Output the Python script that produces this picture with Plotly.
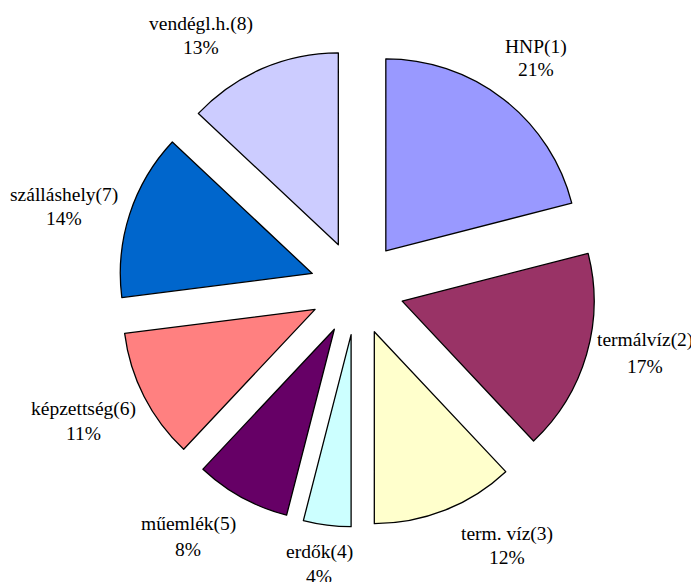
import plotly.graph_objects as go

categories = ["HNP(1)", "termálvíz(2)", "term. víz(3)", "erdők(4)", "műemlék(5)",
              "képzettség(6)", "szálláshely(7)", "vendégl.h.(8)"]
values = [21, 17, 12, 4, 8, 11, 14, 13]
colors = ["#9999FF", "#993366", "#FFFFCC", "#CCFFFF", "#660066", "#FF8080", "#0066CC", "#CCCCFF"]

W, H = 699, 582
OFF = 8  # page body margin offset
# label anchor positions in page pixels (x, name-line y, percent-line y)
label_pos = [(536, 47, 70), (645, 340, 366), (507, 534, 557), (319, 552, 576),
             (188, 524, 549), (83, 409, 433), (64, 195, 218), (201, 24, 48)]

fig = go.Figure(go.Pie(
    labels=categories, values=values, sort=False, direction="clockwise", rotation=0,
    pull=[0.245] * len(values),
    marker=dict(colors=colors, line=dict(color="black", width=1.3)),
    textinfo="none", hoverinfo="label+percent", showlegend=False,
    domain=dict(x=[110 / W, 588 / W], y=[1 - 519 / H, 1 - 41 / H]),
))

total = sum(values)
annotations = []
for cat, v, (px, py1, py2) in zip(categories, values, label_pos):
    for txt, py in ((cat, py1), (f"{round(100 * v / total)}%", py2)):
        annotations.append(dict(text=txt, x=(px - OFF) / W, y=1 - (py - OFF) / H,
                                xref="paper", yref="paper",
                                showarrow=False, xanchor="center", yanchor="middle",
                                font=dict(family="Liberation Serif", size=19.5, color="black")))

fig.update_layout(width=W, height=H, margin=dict(l=0, r=0, t=0, b=0),
                  paper_bgcolor="white", plot_bgcolor="white", annotations=annotations)
fig.write_html("out.html")
